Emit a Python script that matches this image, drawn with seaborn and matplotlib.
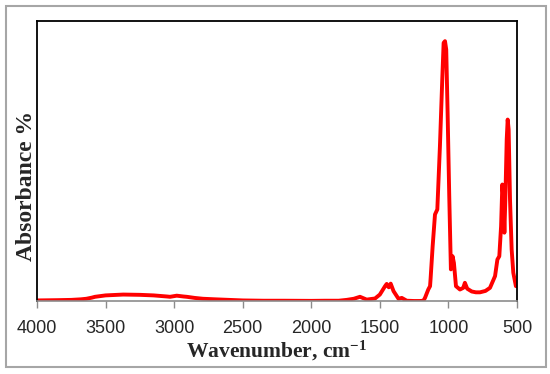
import matplotlib
matplotlib.use("Agg")
import matplotlib.pyplot as plt
import seaborn as sns
import pandas as pd
from matplotlib.patches import Rectangle

# Data (wavenumber in cm-1, absorbance in arbitrary %)
wavenumber = [4000, 3850, 3750, 3680, 3640, 3600, 3577, 3500, 3371, 3250, 3150, 3050,
              3030, 2981, 2930, 2908, 2850, 2790, 2700, 2600, 2498, 2350, 2200, 2000,
              1900, 1800, 1742, 1690, 1645, 1596, 1535, 1500, 1462, 1450, 1435, 1421,
              1400, 1364, 1340, 1304, 1250, 1207, 1183, 1171, 1147, 1134, 1130, 1115,
              1098, 1081, 1062, 1045, 1035, 1025, 1016, 1006, 994, 982, 970, 960, 945,
              916, 892, 880, 863, 830, 800, 770, 730, 697, 660, 643, 629, 616, 607,
              599, 592, 585, 575, 568, 561, 551, 539, 527, 508, 500]
absorbance = [0.2, 0.3, 0.4, 0.6, 0.8, 1.2, 1.5, 2.0, 2.3, 2.2, 2.0, 1.6,
              1.5, 1.9, 1.6, 1.5, 1.1, 0.8, 0.6, 0.4, 0.2, 0.1, 0.1, 0.05,
              0.1, 0.1, 0.4, 0.8, 1.5, 0.5, 0.9, 2.3, 5.3, 6.1, 4.9, 6.2,
              3.5, 0.8, 1.1, 0.1, 0.0, 0.0, 0.1, 1.1, 4.1, 5.3, 8.0, 19.6,
              30.9, 32.7, 55.3, 79.1, 92.2, 92.8, 89.8, 67.2, 37.4, 11.3, 16.0, 13.6, 5.3,
              4.1, 4.7, 6.5, 4.4, 3.4, 3.1, 3.1, 3.6, 4.7, 8.9, 14.8, 16.0, 26.7, 41.6,
              36.3, 24.4, 36.3, 57.7, 64.8, 61.3, 36.3, 18.4, 10.1, 5.3, 6.0]
x_ticks = [4000, 3500, 3000, 2500, 2000, 1500, 1000, 500]

df = pd.DataFrame({"Wavenumber": wavenumber, "Absorbance": absorbance})

sns.set_theme(style="white")
plt.rcParams["mathtext.fontset"] = "custom"
plt.rcParams["mathtext.rm"] = "Liberation Serif:bold"
plt.rcParams["mathtext.bf"] = "Liberation Serif:bold"
plt.rcParams["mathtext.default"] = "rm"

fig = plt.figure(figsize=(5.5, 3.74), dpi=100)
ax = fig.add_axes([37 / 550, 1 - 301 / 374, 480 / 550, 280 / 374])

sns.lineplot(data=df, x="Wavenumber", y="Absorbance", ax=ax, color="#ff0000",
             linewidth=2.8, sort=False, estimator=None)

ax.set_xlim(4000, 500)
ax.set_ylim(0, 100)
ax.set_xticks(x_ticks)
ax.set_xticklabels([str(t) for t in x_ticks], fontsize=13, family="Liberation Sans")
ax.set_yticks([])
ax.tick_params(axis="x", direction="out", length=5, width=1, color="#8c8c8c",
               pad=9, bottom=True)
for side in ["top", "left", "right"]:
    ax.spines[side].set_color("black")
    ax.spines[side].set_linewidth(1.3)
ax.spines["bottom"].set_color("#8c8c8c")
ax.spines["bottom"].set_linewidth(1.2)

ax.set_xlabel(r"Wavenumber, cm$^{-1}$", fontsize=15.5, fontweight="bold",
              family="Liberation Serif")
ax.set_ylabel("Absorbance %", fontsize=17, fontweight="bold",
              family="Liberation Serif")
ax.xaxis.set_label_coords(0.5, -0.135)
ax.yaxis.set_label_coords(0.0, 0.41)

fig.patches.append(Rectangle((6 / 550, 1 - 367 / 374), 540 / 550, 361 / 374,
                             transform=fig.transFigure, fill=False,
                             edgecolor="#a6a6a6", linewidth=1.5))

fig.savefig("out.png", dpi=100)
